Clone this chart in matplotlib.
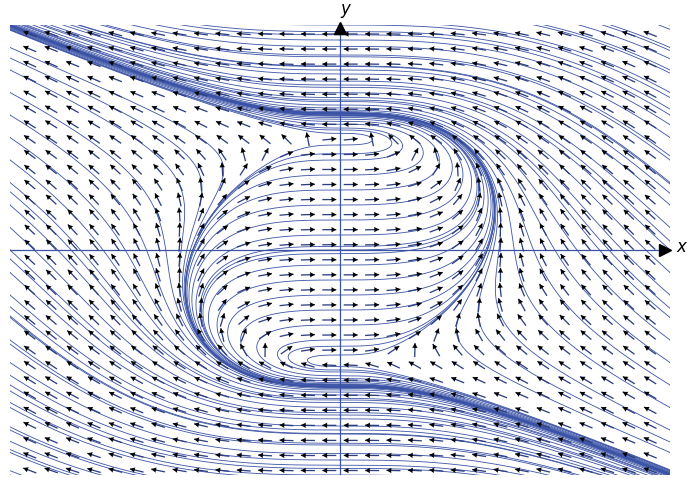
import numpy as np
import matplotlib.pyplot as plt

# phase plane  x' = 1 - x^2 - y^2 ,  y' = k x^2
k = 1.0
xlim = (-2.0, 2.0)
ylim = (-2.0, 2.0)

# arrow grid (30 x 30)
arrow_x = np.linspace(-1.88, 1.88, 30)
arrow_y = np.linspace(-1.96, 1.92, 30)
# starting points: dense on the y axis, coarser on the two side edges
axis_y = np.arange(-3.6, 3.61, 2/15)
edge_x = [-2.0, 2.0]
edge_y = np.arange(-3.6, 3.61, 0.2)

line_col = '#3b53a6'

def field(x, y):
    return 1 - x**2 - y**2, k*x**2

def trace(x0, y0, sign, dt=0.002, nmax=20000):
    x = x0.copy()
    y = y0.copy()
    xs, ys = [x.copy()], [y.copy()]
    alive = np.ones_like(y0, dtype=bool)
    for i in range(nmax):
        k1 = field(x, y)
        k2 = field(x + 0.5*sign*dt*k1[0], y + 0.5*sign*dt*k1[1])
        k3 = field(x + 0.5*sign*dt*k2[0], y + 0.5*sign*dt*k2[1])
        k4 = field(x + sign*dt*k3[0], y + sign*dt*k3[1])
        nx = x + sign*dt/6*(k1[0] + 2*k2[0] + 2*k3[0] + k4[0])
        ny = y + sign*dt/6*(k1[1] + 2*k2[1] + 2*k3[1] + k4[1])
        x = np.where(alive, nx, x)
        y = np.where(alive, ny, y)
        alive &= (np.abs(x) < 2.6) & (np.abs(y) < 4.0)
        xs.append(x.copy()); ys.append(y.copy())
        if not alive.any():
            break
    return np.array(xs), np.array(ys)

fig = plt.figure(figsize=(6.89, 4.78), dpi=100)
ax = fig.add_axes([10/689, 3/478, 660/689, 450/478])
ax.set_xlim(xlim)
ax.set_ylim(ylim)
ax.axis('off')

EX, EY = np.meshgrid(edge_x, edge_y)
SX = np.concatenate([np.zeros(len(axis_y)), EX.ravel()])
SY = np.concatenate([axis_y, EY.ravel()])
for sgn in (1, -1):
    xs, ys = trace(SX, SY, sgn)
    for j in range(len(SX)):
        ax.plot(xs[:, j], ys[:, j], color=line_col, lw=0.6, zorder=2)

# axes
ax.plot(xlim, [0, 0], color=line_col, lw=0.9, zorder=3)
ax.plot([0, 0], ylim, color=line_col, lw=0.9, zorder=3)
ax.plot(xlim[1] - 0.03, 0, marker='>', ms=9, color='k', clip_on=False, zorder=5)
ax.plot(0, ylim[1] - 0.03, marker='^', ms=9, color='k', clip_on=False, zorder=5)
ax.text(0.0, 2.06, 'y', fontsize=12, style='italic', ha='left', va='bottom', clip_on=False)
fig.text(676/689, 1 - 247/478, 'x', fontsize=12, style='italic', ha='left', va='center')

# direction field, all arrows same on-screen length
X, Y = np.meshgrid(arrow_x, arrow_y)
U, V = field(X, Y)
px_x = 660/(xlim[1] - xlim[0])
px_y = 450/(ylim[1] - ylim[0])
su, sv = U*px_x, V*px_y
n = np.hypot(su, sv)
su, sv = su/n, sv/n
L = 14
ax.quiver(X, Y, su, sv, angles='uv', scale_units='dots', scale=1/L, pivot='mid',
          units='dots', width=1.3, headwidth=0, headlength=0, headaxislength=0,
          color='#2c3f80', zorder=4)
TX = X + su*L/2/px_x
TY = Y + sv*L/2/px_y
ax.quiver(TX, TY, su, sv, angles='uv', scale_units='dots', scale=1/5, pivot='tip',
          units='dots', width=1.7, headwidth=3.6, headlength=3.3, headaxislength=3.0,
          color='k', zorder=5)

fig.savefig('out.png', dpi=100)
